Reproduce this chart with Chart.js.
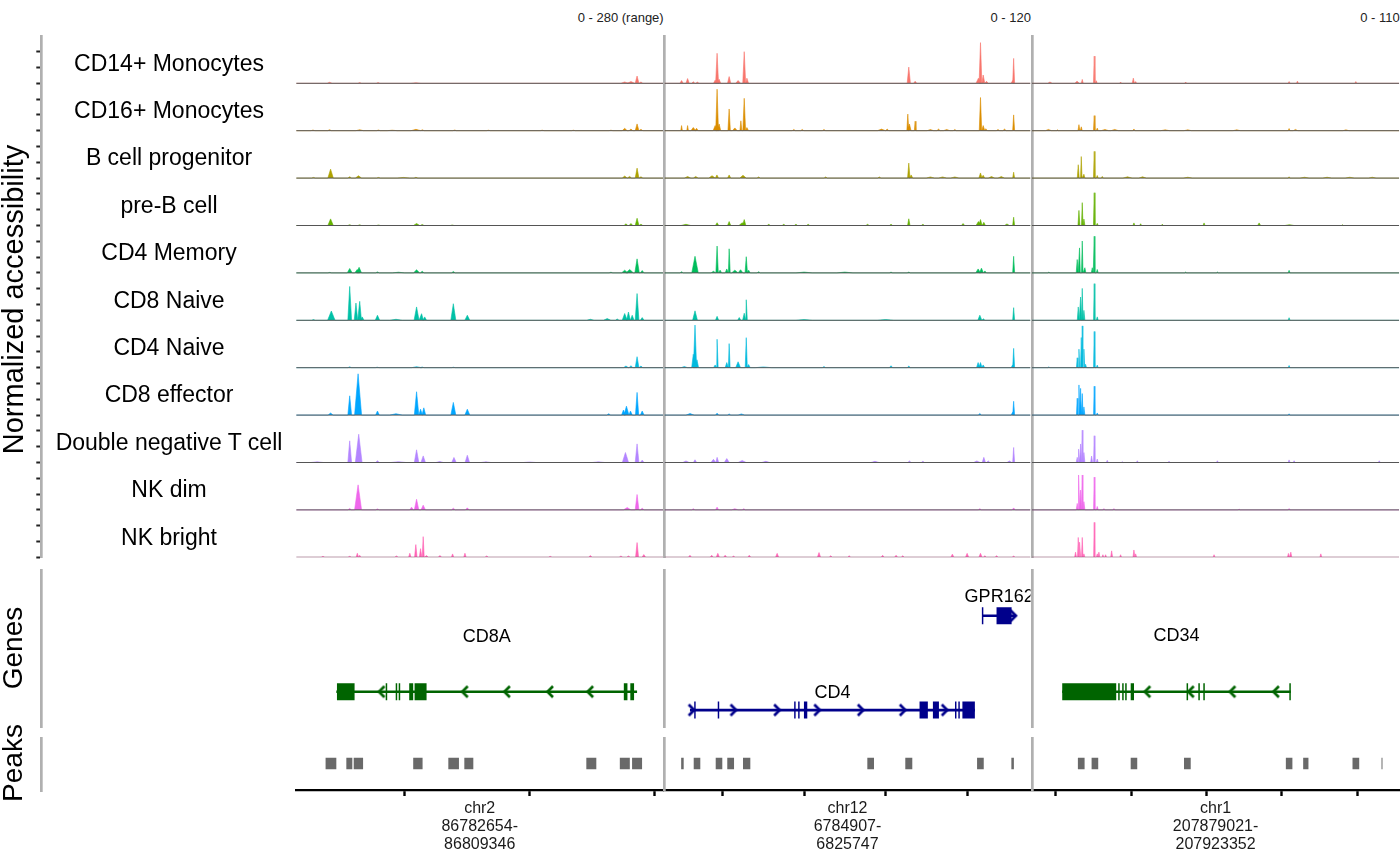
<!DOCTYPE html>
<html>
<head>
<meta charset="utf-8">
<script src="https://cdn.jsdelivr.net/npm/chart.js@4.4.1/dist/chart.umd.min.js"></script>
<style>
html, body { margin: 0; padding: 0; background: #fff; }
body { width: 1400px; height: 865px; position: relative; overflow: hidden; font-family: "Liberation Sans", Arial, Helvetica, sans-serif; }
canvas { position: absolute; }
.lbl { position: absolute; white-space: nowrap; color: #000; }
</style>
</head>
<body>
<script>
// ---- data (positions in kb, heights in normalized accessibility) ----
const cellTypes = ['CD14+ Monocytes', 'CD16+ Monocytes', 'B cell progenitor', 'pre-B cell', 'CD4 Memory',
	'CD8 Naive', 'CD4 Naive', 'CD8 effector', 'Double negative T cell', 'NK dim', 'NK bright'];
const regionNames = ['chr2', 'chr12', 'chr1'];
const regionStarts = [86782654, 6784907, 207879021];
const regionEnds = [86809346, 6825747, 207923352];
const yRanges = [280, 120, 110];
const rangeLabels = ['0 - 280 (range)', '0 - 120', '0 - 110'];
const axisTicksKb = [[86790, 86800, 86810], [6790, 6800, 6810, 6820], [207880, 207890, 207900, 207910, 207920]];

// each peak: [position kb, height, optional half width kb]
const cd8aCoverage = [
	[[86783.99, 6, 0.2], [86786.40, 4], [86787.87, 4], [86790.9, 3, 0.4], [86807.6, 8, 0.3], [86808.1, 10, 0.3], [86808.59, 43], [86808.9, 8]],
	[[86782.66, 4], [86783.99, 6], [86786.40, 6, 0.3], [86787.9, 4], [86789.0, 3, 0.4], [86790.9, 8, 0.4], [86791.4, 6], [86794.0, 4], [86796.7, 3], [86801.0, 3], [86803.5, 3], [86806.5, 3], [86807.6, 14, 0.2], [86808.1, 10], [86808.59, 40], [86808.9, 8]],
	[[86782.7, 4], [86784.07, 53, 0.22], [86785.60, 8], [86786.30, 14, 0.25], [86787.9, 4], [86789.9, 4, 0.5], [86790.9, 5], [86807.6, 12, 0.2], [86808.0, 10], [86808.59, 59], [86808.9, 8]],
	[[86784.07, 39, 0.22], [86785.60, 5], [86786.4, 4], [86787.9, 3], [86790.95, 12, 0.25], [86791.4, 6], [86793.8, 3], [86807.7, 10], [86808.1, 12], [86808.59, 43], [86808.9, 8]],
	[[86784.0, 3], [86785.60, 26, 0.2], [86786.20, 20, 0.2], [86786.35, 33, 0.2], [86787.82, 6], [86789.5, 4, 0.5], [86790.95, 18, 0.25], [86791.4, 10], [86793.89, 8], [86806.5, 4], [86807.6, 16, 0.25], [86808.0, 20, 0.3], [86808.59, 83, 0.18], [86809.0, 14]],
	[[86782.7, 4], [86784.13, 55, 0.3], [86785.60, 200], [86786.10, 102, 0.14], [86786.40, 112, 0.14], [86786.6, 20], [86787.82, 30, 0.18], [86789.3, 6, 0.5], [86790.95, 79, 0.2], [86791.35, 39], [86791.6, 20], [86793.89, 98, 0.2], [86795.01, 30, 0.2], [86804.85, 6, 0.3], [86806.2, 10, 0.3], [86807.0, 8], [86807.6, 40, 0.2], [86807.9, 49], [86808.2, 30], [86808.59, 158], [86809.0, 16]],
	[[86785.6, 5], [86787.8, 3], [86790.95, 6, 0.4], [86791.4, 4], [86793.9, 3], [86807.7, 10, 0.2], [86808.1, 12], [86808.59, 65], [86808.9, 10]],
	[[86784.07, 12, 0.2], [86785.60, 114], [86786.27, 244, 0.28], [86787.82, 24], [86789.3, 8, 0.5], [86790.95, 138, 0.18], [86791.27, 35], [86791.53, 43], [86793.89, 75, 0.2], [86795.01, 35, 0.2], [86806.32, 8], [86807.5, 30], [86807.74, 53, 0.2], [86808.06, 24], [86808.59, 134, 0.13], [86809.0, 24]],
	[[86783.0, 4, 0.5], [86785.60, 128], [86786.32, 167, 0.27], [86787.82, 10], [86789.5, 5, 0.6], [86790.95, 75, 0.18], [86791.48, 39, 0.18], [86792.8, 6, 0.3], [86793.94, 30, 0.18], [86795.01, 43, 0.18], [86796.5, 4, 0.4], [86800.0, 3, 0.5], [86805.5, 4, 0.5], [86807.66, 59, 0.25], [86808.59, 110], [86809.0, 14]],
	[[86785.60, 8], [86786.27, 148, 0.28], [86787.82, 6], [86790.55, 16], [86790.95, 63, 0.18], [86791.48, 28, 0.18], [86793.89, 10], [86795.01, 12], [86807.8, 14, 0.3], [86808.59, 91], [86809.0, 10]],
	[[86783.46, 6], [86785.60, 6], [86786.21, 24, 0.1], [86786.40, 12, 0.1], [86789.34, 8], [86790.41, 24, 0.1], [86790.89, 75, 0.1], [86791.27, 51, 0.1], [86791.48, 122, 0.08], [86791.75, 10], [86792.82, 10], [86793.83, 20, 0.1], [86794.82, 24, 0.1], [86796.56, 8], [86801.64, 6], [86804.85, 10], [86807.3, 8], [86807.9, 8], [86808.59, 87, 0.12], [86809.13, 16]]
];
const cd4Coverage = [
	[[6784.96, 7], [6785.70, 12], [6786.4, 4], [6786.9, 3], [6789.08, 8], [6789.32, 76, 0.18], [6789.57, 10], [6790.80, 17], [6791.9, 7, 0.3], [6792.65, 80, 0.18], [6792.98, 13], [6812.85, 41], [6813.63, 5], [6821.4, 13, 0.3], [6821.65, 103, 0.17], [6821.98, 21], [6822.39, 5], [6825.6, 7], [6825.72, 63, 0.12]],
	[[6784.96, 13, 0.1], [6785.70, 13, 0.1], [6786.4, 8, 0.3], [6786.8, 6], [6789.08, 13, 0.25], [6789.32, 105, 0.17], [6789.57, 17], [6790.80, 55, 0.15], [6791.5, 7, 0.3], [6792.24, 25, 0.12], [6792.65, 82, 0.17], [6792.98, 8], [6798.74, 3], [6799.77, 3], [6802.44, 3], [6809.5, 4, 0.5], [6810.2, 4], [6812.73, 42, 0.12], [6812.93, 17], [6813.63, 24, 0.1], [6815.5, 3, 0.4], [6816.5, 4], [6817.5, 3, 0.4], [6818.5, 3], [6821.65, 84, 0.15], [6821.98, 13], [6822.3, 5], [6823.8, 3], [6824.6, 4], [6825.72, 40, 0.12]],
	[[6785.7, 4, 0.4], [6786.7, 4, 0.3], [6788.7, 6, 0.4], [6789.3, 8], [6790.80, 8], [6792.5, 7, 0.4], [6794.42, 3], [6802.65, 3], [6809.23, 3], [6812.85, 38, 0.15], [6813.14, 8], [6815.5, 3, 0.5], [6817, 3, 0.5], [6818.5, 3, 0.5], [6821.65, 13], [6821.98, 7], [6823, 4, 0.4], [6824.2, 4, 0.4], [6825.72, 15, 0.12]],
	[[6785.5, 3, 0.6], [6789.32, 7], [6790.80, 10], [6792.4, 7, 0.4], [6792.65, 15], [6795.66, 3], [6797.5, 3], [6799, 3], [6800.5, 3], [6807.79, 3], [6810.67, 3], [6812.85, 17, 0.15], [6814.58, 3], [6819.51, 5], [6821.4, 10, 0.3], [6821.65, 15], [6822.06, 8], [6824.9, 4, 0.3], [6825.72, 21, 0.12]],
	[[6784.96, 3], [6786.61, 42, 0.4], [6788.87, 4, 0.3], [6789.32, 68, 0.15], [6789.69, 7], [6790.51, 10], [6790.80, 61, 0.13], [6791.5, 7, 0.4], [6792.2, 8, 0.3], [6792.90, 41, 0.15], [6793.19, 7], [6794.42, 3], [6800, 2, 1], [6805, 2, 1], [6810.67, 2], [6812.85, 2], [6821.36, 10, 0.3], [6821.77, 12, 0.25], [6822.19, 5], [6825.72, 42, 0.12]],
	[[6786.61, 24, 0.3], [6789.32, 10], [6792.04, 7], [6792.65, 18], [6792.90, 52, 0.13], [6800, 2, 1], [6810, 2, 1], [6821.57, 13, 0.25], [6822.0, 4], [6825.72, 32, 0.12]],
	[[6785.3, 3, 0.4], [6786.40, 34], [6786.61, 108], [6786.85, 20], [6789.08, 7], [6789.32, 72, 0.13], [6790.51, 13], [6790.80, 61, 0.12], [6791.9, 15, 0.3], [6792.90, 76, 0.13], [6793.19, 8], [6795, 2, 1], [6802.44, 3], [6810.67, 5], [6812.85, 4], [6821.36, 13], [6821.65, 13], [6821.98, 7], [6825.6, 7], [6825.72, 49, 0.12]],
	[[6786.0, 4, 0.5], [6789.32, 5], [6790.80, 3], [6792.3, 3, 0.4], [6821.57, 4], [6825.6, 7], [6825.72, 35, 0.12]],
	[[6785.5, 4, 0.4], [6786.61, 7], [6788.87, 8, 0.3], [6789.32, 13], [6790.51, 10, 0.3], [6792.4, 5, 0.5], [6795.3, 3, 0.5], [6808.7, 3, 0.5], [6812.93, 4], [6814.58, 3], [6821.2, 4, 0.4], [6822.06, 13], [6822.6, 4], [6825.2, 4, 0.3], [6825.72, 38, 0.12]],
	[[6786.4, 3], [6789.32, 7], [6791.5, 3, 0.4], [6792.6, 3], [6821.57, 3], [6825.72, 5]],
	[[6785.99, 5], [6788.66, 5], [6789.41, 10], [6790.31, 5], [6791.34, 3], [6793.27, 5], [6796.69, 10], [6801.83, 12], [6803.27, 4], [6805.53, 4], [6809.64, 5], [6811.29, 5], [6812.11, 4], [6818.20, 8], [6820.01, 10], [6821.65, 10], [6822.19, 4], [6823.63, 4], [6825.72, 3]]
];
const cd34Coverage = [
	[[207879.2, 3, 0.3], [207882.8, 5, 0.3], [207883.49, 9], [207885.08, 63, 0.1], [207885.35, 6], [207888.58, 3], [207890.27, 12, 0.15], [207890.58, 4], [207897.22, 3], [207910.95, 4], [207912.06, 5], [207919.81, 4]],
	[[207879.0, 3, 0.4], [207880.2, 2], [207883.05, 14], [207883.36, 9], [207885.08, 35, 0.1], [207885.48, 6], [207886.5, 3, 0.5], [207887.8, 3, 0.5], [207890.35, 4], [207894.5, 2, 0.6], [207897.5, 2, 0.5], [207904, 2, 0.5], [207910.95, 5], [207911.8, 3, 0.3], [207918.5, 2, 0.4]],
	[[207882.96, 31], [207883.36, 50, 0.1], [207883.71, 9], [207885.08, 62, 0.1], [207885.48, 6], [207886.15, 4], [207889.5, 3, 0.6], [207891.5, 3, 0.5], [207897.5, 2, 0.6], [207910.95, 3], [207913, 2, 0.6], [207916, 2, 0.6], [207919, 2, 0.6], [207922, 2, 0.5]],
	[[207883.05, 35], [207883.49, 53, 0.1], [207883.71, 15], [207885.08, 76, 0.1], [207885.48, 5], [207890.35, 6], [207891.24, 4], [207894.12, 3], [207899.66, 6], [207906.97, 6, 0.2], [207911, 2, 0.6], [207918.04, 2]],
	[[207879.06, 2], [207882.82, 31], [207883.13, 58, 0.1], [207883.49, 74, 0.1], [207883.84, 12], [207884.82, 12], [207885.08, 85, 0.09], [207885.48, 8], [207897.22, 2], [207901.43, 2], [207910.95, 6]],
	[[207882.96, 31], [207883.27, 54, 0.1], [207883.49, 74, 0.1], [207883.71, 23], [207885.08, 85, 0.09], [207885.48, 8], [207910.95, 6]],
	[[207879.06, 2], [207882.82, 23, 0.1], [207883.05, 43, 0.1], [207883.36, 70, 0.1], [207883.49, 97, 0.08], [207883.71, 43, 0.1], [207883.93, 8], [207885.08, 84, 0.09], [207885.48, 6], [207910.95, 5]],
	[[207882.82, 39, 0.1], [207883.05, 70, 0.1], [207883.27, 62, 0.1], [207883.49, 50, 0.1], [207883.71, 19], [207885.08, 67, 0.09], [207885.48, 5], [207910.95, 3]],
	[[207882.82, 12], [207883.05, 31, 0.1], [207883.27, 43, 0.1], [207883.49, 75, 0.08], [207883.71, 23], [207884.73, 15], [207885.08, 62, 0.09], [207885.48, 8], [207886.81, 5], [207888.80, 2], [207890.80, 4], [207895.01, 3], [207901.43, 4], [207910.95, 6], [207911.62, 4], [207922.92, 4]],
	[[207882.82, 15], [207883.05, 81, 0.1], [207883.27, 46, 0.1], [207883.49, 81, 0.08], [207883.71, 19], [207885.08, 76, 0.09], [207885.48, 8], [207886.37, 3], [207887.70, 3], [207904.31, 2], [207910.95, 3]],
	[[207882.60, 12], [207882.96, 46, 0.1], [207883.18, 35, 0.1], [207883.49, 46, 0.1], [207883.71, 8], [207885.08, 81, 0.08], [207885.48, 8], [207885.70, 12], [207886.23, 6], [207886.59, 6], [207887.39, 15], [207888.58, 6], [207890.35, 17], [207890.58, 8], [207900.99, 6], [207910.86, 9], [207911.18, 12], [207915.16, 8]]
];

const cd8aPeaks = [[86783.67, 86784.53], [86785.33, 86785.81], [86785.92, 86786.67], [86790.68, 86791.43], [86793.49, 86794.34], [86794.77, 86795.49], [86804.53, 86805.33], [86807.21, 86808.01], [86808.19, 86808.99]];
const cd4Peaks = [[6784.91, 6785.22], [6786.45, 6787.26], [6789.15, 6789.96], [6790.57, 6791.40], [6792.50, 6793.40], [6807.76, 6808.58], [6812.42, 6813.28], [6821.23, 6822.05], [6825.44, 6825.75]];
const cd34Peaks = [[207882.91, 207883.80], [207884.73, 207885.61], [207889.92, 207890.79], [207897.00, 207897.89], [207910.52, 207911.39], [207912.82, 207913.52], [207919.37, 207920.26], [207923.22, 207923.35]];

const geneNames = ['CD8A', 'CD4', 'GPR162', 'CD34'];
const genePanels = [0, 1, 1, 2];
const geneStrands = [-1, 1, 1, -1];
const geneSpans = [[86784.53, 86808.59], [6785.99, 6820.96], [6821.86, 6826.02], [207880.83, 207911.18]];
const geneExons = [
	[[86784.58, 86785.99], [86788.48, 86788.60], [86789.28, 86789.40], [86789.52, 86789.64], [86790.36, 86790.68], [86790.79, 86791.75], [86807.53, 86807.82], [86808.05, 86808.35]],
	[[6786.51, 6786.69], [6789.40, 6789.58], [6798.78, 6798.96], [6799.27, 6799.45], [6799.98, 6800.39], [6814.17, 6815.19], [6815.81, 6816.55], [6818.52, 6818.70], [6818.93, 6819.11], [6819.43, 6820.96]],
	[[6821.82, 6822.00], [6823.62, 6825.47]],
	[[207880.83, 207888.00], [207888.26, 207888.46], [207888.79, 207888.99], [207889.19, 207889.39], [207889.92, 207890.36], [207897.34, 207897.54], [207898.90, 207899.10], [207899.56, 207899.76], [207910.98, 207911.18]]
];
const geneArrows = [
	[86788.14, 86794.80, 86798.17, 86801.62, 86804.83],
	[6786.20, 6791.34, 6796.69, 6801.62, 6806.96, 6812.11, 6817.26],
	[6825.68],
	[207892.12, 207897.89, 207903.42, 207909.19]
];

// ---- layout and style ----
const trackColors = ['#F8766D', '#DB8E00', '#AEA200', '#64B200', '#00BD5C', '#00C1A7', '#00BADE', '#00A6FF', '#B385FF', '#EF67EB', '#FF63B6'];
const panelLeft = [296.2, 664.5, 1031.9];
const panelRight = [663.2, 1030.5, 1399.2];
const trackTop = 35.9, trackBottom = 557.3;
const genesTop = 569, genesBottom = 728;
const peaksTop = 737, peaksBottom = 790;
const axisRoom = 75;
const leftAxisX = 41.3;
const sepColor = '#b0b0b0';
const geneRows = [22.8, 11.3, 70.6, 22.8];       // on a 0-100 track scale
const geneLabelRows = [57.4, 22.2, 82.2, 57.9];
const strandColor = {'-1': '#006400', '1': '#00008B'};
const coverageByPanel = [cd8aCoverage, cd4Coverage, cd34Coverage];
const peaksByPanel = [cd8aPeaks, cd4Peaks, cd34Peaks];
const halfWidthDefault = [0.15, 0.2, 0.13];

Chart.defaults.font.family = '"Liberation Sans", Arial, Helvetica, sans-serif';
Chart.defaults.animation = false;
Chart.defaults.plugins.legend.display = false;
Chart.defaults.plugins.tooltip.enabled = false;
Chart.defaults.elements.point.radius = 0;

function xMin(p) { const s = regionStarts[p] / 1000, e = regionEnds[p] / 1000; return s - 0.05 * (e - s); }
function xMax(p) { const s = regionStarts[p] / 1000, e = regionEnds[p] / 1000; return e + 0.05 * (e - s); }

function makeChart(area, room, config) {
	const left = Math.floor(area.l - room.l), top = Math.floor(area.t - room.t);
	const right = Math.ceil(area.r + room.r), bottom = Math.ceil(area.b + room.b);
	const c = document.createElement('canvas');
	const w = right - left, h = bottom - top;
	c.width = w; c.height = h;
	c.style.left = left + 'px'; c.style.top = top + 'px';
	c.style.width = w + 'px'; c.style.height = h + 'px';
	document.body.appendChild(c);
	config.options = config.options || {};
	config.options.responsive = false;
	config.options.maintainAspectRatio = false;
	config.options.animation = false;
	config.options.layout = {autoPadding: false,
		padding: {left: area.l - left, right: right - area.r, top: area.t - top, bottom: bottom - area.b - (room.axis || 0)}};
	return new Chart(c, config);
}

function hiddenScale(min, max) {
	return {type: 'linear', min: min, max: max, display: false};
}
function separatorScale(min, max) {
	return {type: 'linear', min: min, max: max, display: true,
		ticks: {display: false}, grid: {display: false, drawTicks: false},
		border: {display: true, color: sepColor, width: 2.7}};
}

function profilePoints(peaks, base, hw0, x0, x1) {
	const pts = [{x: x0, y: base}];
	peaks.slice().sort((a, b) => a[0] - b[0]).forEach(pk => {
		const hw = pk[2] || hw0;
		pts.push({x: pk[0] - hw, y: base}, {x: pk[0], y: base + pk[1]}, {x: pk[0] + hw, y: base});
	});
	pts.push({x: x1, y: base});
	return pts;
}

function segments(list, y) {
	const pts = [];
	list.forEach(s => { pts.push({x: s[0], y: y}, {x: s[1], y: y}, {x: s[1], y: null}); });
	return pts;
}

function chevron(color, dir) {
	const c = document.createElement('canvas');
	c.width = 10; c.height = 15;
	const g = c.getContext('2d');
	g.strokeStyle = color; g.lineWidth = 2.7;
	g.beginPath();
	if (dir < 0) { g.moveTo(8, 2); g.lineTo(2.5, 7.5); g.lineTo(8, 13); }
	else { g.moveTo(2, 2); g.lineTo(7.5, 7.5); g.lineTo(2, 13); }
	g.stroke();
	return c;
}

const geneLabelPlugin = {
	id: 'geneLabels',
	afterDatasetsDraw(chart) {
		const list = chart.options.plugins.geneLabels.genes;
		const ctx = chart.ctx, a = chart.chartArea;
		ctx.save();
		ctx.beginPath(); ctx.rect(a.left, a.top, a.right - a.left, a.bottom - a.top); ctx.clip();
		ctx.fillStyle = '#000';
		ctx.font = '18px "Liberation Sans", Arial, sans-serif';
		ctx.textAlign = 'center'; ctx.textBaseline = 'middle';
		list.forEach(i => {
			const x = chart.scales.x.getPixelForValue((geneSpans[i][0] + geneSpans[i][1]) / 2);
			const y = chart.scales.y.getPixelForValue(geneLabelRows[i]);
			ctx.fillText(geneNames[i], x, y);
		});
		ctx.restore();
	}
};

// ---- coverage tracks ----
for (let p = 0; p < 3; p++) {
	const R = yRanges[p];
	const n = cellTypes.length;
	const datasets = [];
	coverageByPanel[p].forEach((peaks, k) => {
		const base = (n - 1 - k) * R;
		datasets.push({type: 'line', data: profilePoints(peaks, base, halfWidthDefault[p], xMin(p), xMax(p)),
			fill: {value: base}, backgroundColor: trackColors[k], borderColor: trackColors[k],
			borderWidth: 0.6, pointRadius: 0, tension: 0, order: 2});
		datasets.push({type: 'line', data: [{x: xMin(p), y: base}, {x: xMax(p), y: base}],
			borderColor: '#555555', borderWidth: 1, pointRadius: 0, fill: false, order: 1});
	});
	makeChart({l: panelLeft[p], r: panelRight[p], t: trackTop, b: trackBottom}, {l: 3, r: 1, t: 5, b: 6}, {
		type: 'line',
		data: {datasets: datasets},
		options: {scales: {x: hiddenScale(xMin(p), xMax(p)), y: p > 0 ? separatorScale(0, n * R) : hiddenScale(0, n * R)}}
	});
}

// ---- genes ----
for (let p = 0; p < 3; p++) {
	const datasets = [];
	const list = [];
	geneNames.forEach((name, i) => {
		if (genePanels[i] !== p) return;
		list.push(i);
		const col = strandColor[geneStrands[i]];
		const row = geneRows[i];
		datasets.push({type: 'line', data: [{x: geneSpans[i][0], y: row}, {x: geneSpans[i][1], y: row}],
			borderColor: col, borderWidth: 2.7, pointRadius: 0, fill: false});
		datasets.push({type: 'line', data: segments(geneExons[i], row), borderColor: col, borderWidth: 17,
			borderCapStyle: 'butt', spanGaps: false, pointRadius: 0, fill: false});
		datasets.push({type: 'scatter', data: geneArrows[i].map(x => ({x: x, y: row})),
			pointStyle: chevron(col, geneStrands[i]), pointRadius: 5});
	});
	makeChart({l: panelLeft[p], r: panelRight[p], t: genesTop, b: genesBottom}, {l: 3, r: 1, t: 0, b: 0}, {
		type: 'line',
		data: {datasets: datasets},
		options: {
			plugins: {geneLabels: {genes: list}},
			scales: {x: hiddenScale(xMin(p), xMax(p)), y: p > 0 ? separatorScale(0, 100) : hiddenScale(0, 100)}
		},
		plugins: [geneLabelPlugin]
	});
}

// ---- peaks + genomic axis ----
for (let p = 0; p < 3; p++) {
	const ticks = axisTicksKb[p];
	makeChart({l: panelLeft[p], r: panelRight[p], t: peaksTop, b: peaksBottom}, {l: 3, r: 1, t: 0, b: axisRoom, axis: axisRoom}, {
		type: 'line',
		data: {datasets: [{data: segments(peaksByPanel[p], 0.5), borderColor: '#696969', borderWidth: 11.7,
			borderCapStyle: 'butt', spanGaps: false, pointRadius: 0, fill: false}]},
		options: {
			scales: {
				x: {type: 'linear', position: 'bottom', min: xMin(p), max: xMax(p),
					afterBuildTicks: s => { s.ticks = ticks.map(v => ({value: v})); },
					afterFit: s => { s.height = axisRoom; },
					ticks: {display: false},
					grid: {display: true, drawOnChartArea: false, drawTicks: true, tickLength: 6, tickWidth: 2.4, tickColor: '#000'},
					border: {display: true, color: '#000', width: 2.2},
					title: {display: true, text: [regionNames[p], regionStarts[p] + '-', String(regionEnds[p])],
						color: '#1a1a1a', font: {size: 16, lineHeight: 1.1}, padding: {top: 0, bottom: 12}}},
				y: p > 0 ? separatorScale(0, 1) : hiddenScale(0, 1)
			}
		}
	});
}

// ---- left axis (ticks for each track) and section lines ----
const ticksPerTrack = 3;
makeChart({l: leftAxisX - 5, r: leftAxisX + 4, t: trackTop, b: trackBottom}, {l: 36, r: 1, t: 2, b: 3}, {
	type: 'line',
	data: {datasets: []},
	options: {scales: {
		x: {type: 'linear', min: 0, max: 1, display: false},
		y: {type: 'linear', min: 0, max: cellTypes.length * ticksPerTrack,
			afterBuildTicks: s => { s.ticks = s.ticks.filter(t => t.value < cellTypes.length * ticksPerTrack); },
			ticks: {display: false, stepSize: 1},
			grid: {display: true, drawOnChartArea: false, drawTicks: true, tickLength: 5, tickWidth: 2, tickColor: '#222'},
			border: {display: true, color: sepColor, width: 2.7}}
	}}
});
[[genesTop, genesBottom], [peaksTop, peaksBottom + 2]].forEach(span => {
	makeChart({l: leftAxisX, r: leftAxisX + 4, t: span[0], b: span[1]}, {l: 3, r: 1, t: 0, b: 0}, {
		type: 'line',
		data: {datasets: []},
		options: {scales: {x: {type: 'linear', min: 0, max: 1, display: false}, y: separatorScale(0, 1)}}
	});
});

// ---- text ----
function addText(text, cx, capY, size, opts) {
	opts = opts || {};
	const d = document.createElement('div');
	d.className = 'lbl';
	d.textContent = text;
	d.style.fontSize = size + 'px';
	d.style.lineHeight = size + 'px';
	d.style.height = size + 'px';
	const w = 600;
	d.style.width = w + 'px';
	if (opts.rotate) {
		d.style.textAlign = 'center';
		d.style.left = (cx - w / 2) + 'px';
		d.style.top = (capY - size / 2) + 'px';
		d.style.transform = 'rotate(-90deg)';
	} else if (opts.right) {
		d.style.textAlign = 'right';
		d.style.left = (cx - w) + 'px';
		d.style.top = (capY - 0.4885 * size) + 'px';
	} else {
		d.style.textAlign = 'center';
		d.style.left = (cx - w / 2) + 'px';
		d.style.top = (capY - 0.4885 * size) + 'px';
	}
	if (opts.color) d.style.color = opts.color;
	document.body.appendChild(d);
}

cellTypes.forEach((name, k) => addText(name, 169, 62.8 + 47.4 * k, 23));
rangeLabels.forEach((t, p) => addText(t, panelRight[p] + 0.5, 17, 13, {right: true, color: '#222'}));
addText('Normalized accessibility', 23 - 0.3465 * 29, 299, 29, {rotate: true});
addText('Genes', 23 - 0.3465 * 28, 647.5, 28, {rotate: true});
addText('Peaks', 23 - 0.3465 * 28, 763, 28, {rotate: true});
</script>
</body>
</html>
